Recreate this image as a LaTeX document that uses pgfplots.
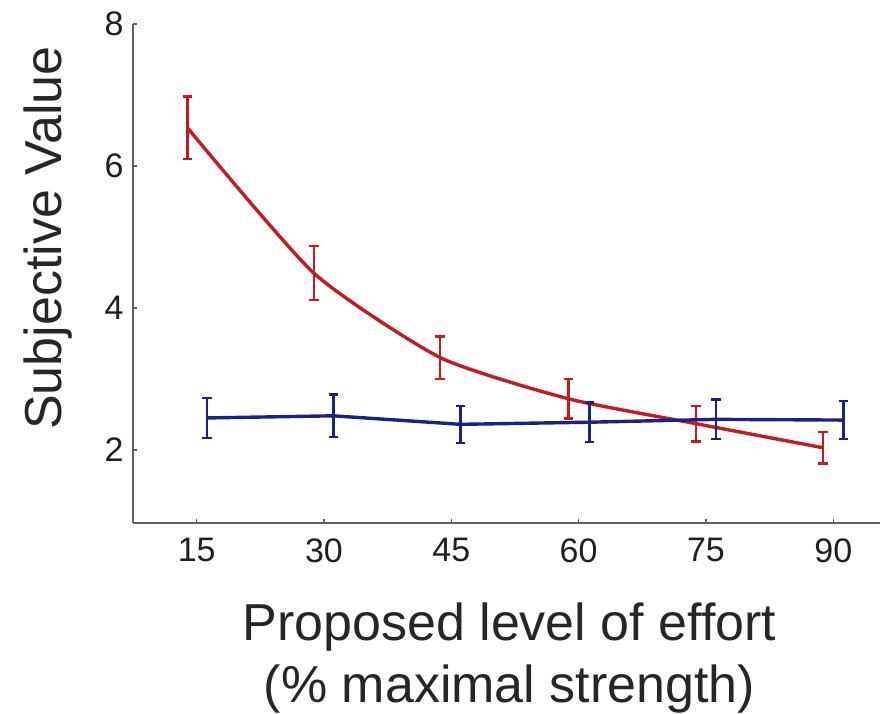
\documentclass[border=0pt]{standalone}
\usepackage{pgfplots}
\pgfplotsset{compat=1.18}
\usepackage{fontspec}
\setmainfont{Liberation Sans}
\definecolor{myred}{RGB}{200,25,35}
\definecolor{myblue}{RGB}{28,32,140}
\definecolor{axgray}{RGB}{95,95,95}
\begin{document}
\begin{tikzpicture}
\begin{axis}[
  name=ax,
  scale only axis,
  width=373.5pt, height=249.5pt,
  xmin=7.5, xmax=95.5, ymin=0.97, ymax=8,
  axis x line*=bottom, axis y line*=left,
  axis line style={axgray, line width=1pt},
  xtick={15,30,45,60,75,90},
  ytick={2,4,6,8},
  tick align=inside,
  major tick length=2pt,
  tick style={axgray, line width=0.8pt},
  /pgf/number format/assume math mode=true,
  ticklabel style={font=\fontsize{17}{20}\selectfont, text=black!88, inner sep=0pt},
  xticklabel style={anchor=north, yshift=-7.5pt},
  yticklabel style={anchor=east, xshift=-4.5pt},
  xlabel={Proposed level of effort\\(\% maximal strength)},
  xlabel style={at={(axis description cs:0.504,-0.159)}, anchor=north, inner sep=0pt,
    align=center, font=\fontsize{26}{31}\selectfont, text=black!85},
  ylabel={Subjective Value},
  ylabel style={at={(axis description cs:-0.1131,0.571)}, anchor=center, rotate=0, inner sep=0pt,
    font=\fontsize{26}{30}\selectfont, text=black!85},
  clip=false,
]
\addplot[myred, line width=1.7pt, smooth, tension=0.35,
  error bars/.cd, y dir=both, y explicit,
  error bar style={line width=1.2pt, myred},
  error mark options={rotate=90, mark size=2.4pt, line width=1.2pt, myred}]
  coordinates {
  (13.9,6.54) +- (0,0.44)
  (28.8,4.49) +- (0,0.38)
  (43.7,3.30) +- (0,0.30)
  (58.8,2.72) +- (0,0.28)
  (73.8,2.37) +- (0,0.25)
  (88.8,2.03) +- (0,0.22)
  };
\addplot[myblue, line width=1.7pt,
  error bars/.cd, y dir=both, y explicit,
  error bar style={line width=1.2pt, myblue},
  error mark options={rotate=90, mark size=2.4pt, line width=1.2pt, myblue}]
  coordinates {
  (16.2,2.45) +- (0,0.28)
  (31.1,2.48) +- (0,0.30)
  (46.1,2.36) +- (0,0.26)
  (61.3,2.39) +- (0,0.28)
  (76.2,2.43) +- (0,0.28)
  (91.2,2.42) +- (0,0.27)
  };
\end{axis}
\path (ax.south west) ++(-66.5pt,-94pt) rectangle ++(441pt,355.5pt);
\end{tikzpicture}
\end{document}
